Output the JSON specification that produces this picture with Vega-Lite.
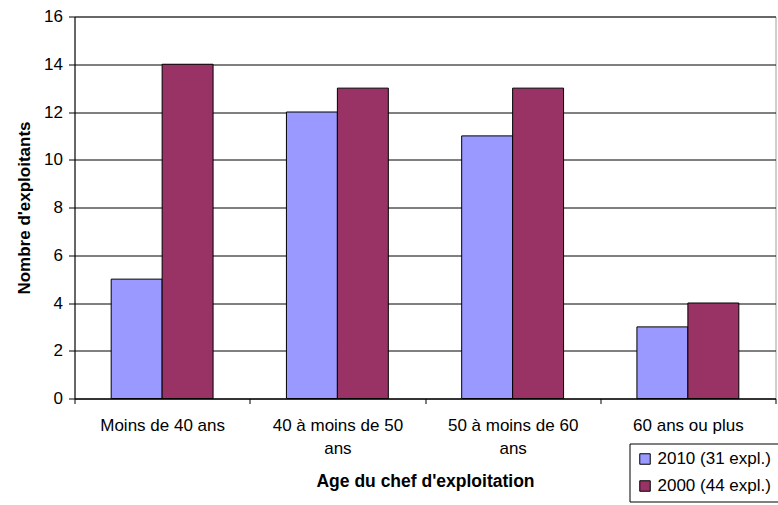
{
  "$schema": "https://vega.github.io/schema/vega-lite/v6.json",
  "autosize": "none",
  "width": 701,
  "height": 382,
  "padding": {"left": 74.5, "top": 16.5, "right": 2.5, "bottom": 106.5},
  "background": "white",
  "config": {
    "font": "Liberation Sans",
    "view": {"stroke": "#a0a0a0", "strokeWidth": 1},
    "axis": {"labelFont": "Liberation Sans", "titleFont": "Liberation Sans", "labelColor": "black", "titleColor": "black", "domainColor": "black", "tickColor": "black", "gridColor": "black", "gridOpacity": 1, "domainWidth": 1, "tickWidth": 1, "gridWidth": 1}
  },
  "data": {
    "values": [
      {"age": "Moins de 40 ans", "serie": "2010 (31 expl.)", "ordre": 1, "n": 5},
      {"age": "Moins de 40 ans", "serie": "2000 (44 expl.)", "ordre": 2, "n": 14},
      {"age": "40 à moins de 50 ans", "serie": "2010 (31 expl.)", "ordre": 1, "n": 12},
      {"age": "40 à moins de 50 ans", "serie": "2000 (44 expl.)", "ordre": 2, "n": 13},
      {"age": "50 à moins de 60 ans", "serie": "2010 (31 expl.)", "ordre": 1, "n": 11},
      {"age": "50 à moins de 60 ans", "serie": "2000 (44 expl.)", "ordre": 2, "n": 13},
      {"age": "60 ans ou plus", "serie": "2010 (31 expl.)", "ordre": 1, "n": 3},
      {"age": "60 ans ou plus", "serie": "2000 (44 expl.)", "ordre": 2, "n": 4}
    ]
  },
  "mark": {"type": "bar", "stroke": "black", "strokeWidth": 1},
  "encoding": {
    "x": {
      "field": "age",
      "type": "nominal",
      "sort": ["Moins de 40 ans", "40 à moins de 50 ans", "50 à moins de 60 ans", "60 ans ou plus"],
      "scale": {"paddingInner": 0, "paddingOuter": 0},
      "axis": {
        "title": "Age du chef d'exploitation",
        "titleFontSize": 17.5,
        "titleFontWeight": "bold",
        "titlePadding": 16,
        "labelFontSize": 17,
        "labelAngle": 0,
        "labelPadding": 14,
        "labelLineHeight": 23,
        "tickBand": "extent",
        "tickSize": 5,
        "labelExpr": "datum.label == '40 à moins de 50 ans' ? ['40 à moins de 50', 'ans'] : datum.label == '50 à moins de 60 ans' ? ['50 à moins de 60', 'ans'] : datum.label",
        "grid": false
      }
    },
    "xOffset": {
      "field": "serie",
      "type": "nominal",
      "sort": ["2010 (31 expl.)", "2000 (44 expl.)"],
      "scale": {"paddingInner": 0, "paddingOuter": 0.72}
    },
    "y": {
      "field": "n",
      "type": "quantitative",
      "scale": {"domain": [0, 16], "nice": false},
      "axis": {
        "title": "Nombre d'exploitants",
        "titleFontSize": 17,
        "titleFontWeight": "bold",
        "titlePadding": 10,
        "labelFontSize": 17,
        "labelPadding": 6,
        "tickSize": 6,
        "values": [0, 2, 4, 6, 8, 10, 12, 14, 16],
        "grid": true
      }
    },
    "fill": {
      "field": "serie",
      "type": "nominal",
      "sort": ["2010 (31 expl.)", "2000 (44 expl.)"],
      "scale": {"domain": ["2010 (31 expl.)", "2000 (44 expl.)"], "range": ["#9999FF", "#993366"]},
      "legend": {
        "title": null,
        "orient": "none",
        "legendX": 555,
        "legendY": 427,
        "strokeColor": "black",
        "fillColor": "white",
        "padding": 7,
        "symbolType": "square",
        "symbolSize": 110,
        "symbolStrokeColor": "black",
        "symbolStrokeWidth": 1,
        "labelFontSize": 17,
        "labelFont": "Liberation Sans",
        "labelColor": "black",
        "rowPadding": 9,
        "labelOffset": 4
      }
    }
  }
}
